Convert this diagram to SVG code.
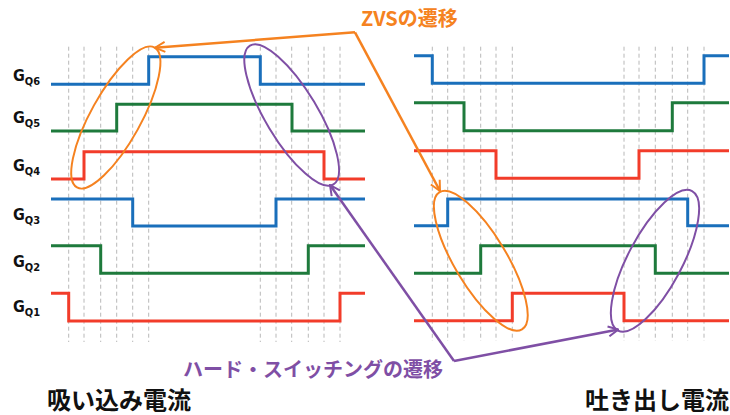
<svg xmlns="http://www.w3.org/2000/svg" width="730" height="415" viewBox="0 0 730 415">
<defs>
<style>
.grid line{stroke:#b8b8b8;stroke-width:1;stroke-dasharray:4 3}
.sig{fill:none;stroke-width:3;stroke-linejoin:miter}
.blue{stroke:#1a6fbb}
.green{stroke:#1e7a3c}
.red{stroke:#f23c2a}
.ell{fill:none;stroke-width:2}
.lbl{font-family:"DejaVu Sans Condensed","Liberation Sans Narrow","Liberation Sans",sans-serif;font-weight:bold;fill:#111}
.cap{font-family:"Noto Sans CJK JP","Noto Sans",sans-serif;font-weight:bold}
.conn{fill:none;stroke-width:2.5}
</style>
<marker id="ao" viewBox="0 0 12 12" refX="11" refY="6" markerWidth="12" markerHeight="12" markerUnits="userSpaceOnUse" orient="auto"><path d="M1,1 L11,6 L1,11" fill="none" stroke="#f58220" stroke-width="2"/></marker>
<marker id="ap" viewBox="0 0 12 12" refX="11" refY="6" markerWidth="12" markerHeight="12" markerUnits="userSpaceOnUse" orient="auto"><path d="M1,1 L11,6 L1,11" fill="none" stroke="#7f4fa5" stroke-width="2"/></marker>
</defs>
<rect width="730" height="415" fill="#fff"/>
<g class="grid">
<line x1="68.7" y1="46.7" x2="68.7" y2="342"/><line x1="84" y1="46.7" x2="84" y2="342"/><line x1="100.7" y1="46.7" x2="100.7" y2="342"/><line x1="116.7" y1="46.7" x2="116.7" y2="342"/><line x1="132.7" y1="46.7" x2="132.7" y2="342"/><line x1="148.7" y1="46.7" x2="148.7" y2="342"/>
<line x1="260.3" y1="46.7" x2="260.3" y2="342"/><line x1="276" y1="46.7" x2="276" y2="342"/><line x1="291.7" y1="46.7" x2="291.7" y2="342"/><line x1="308.3" y1="46.7" x2="308.3" y2="342"/><line x1="324" y1="46.7" x2="324" y2="342"/><line x1="340" y1="46.7" x2="340" y2="342"/>
<line x1="432.3" y1="46.7" x2="432.3" y2="341"/><line x1="447.7" y1="46.7" x2="447.7" y2="341"/><line x1="464" y1="46.7" x2="464" y2="341"/><line x1="480.7" y1="46.7" x2="480.7" y2="341"/><line x1="496" y1="46.7" x2="496" y2="341"/><line x1="512.3" y1="46.7" x2="512.3" y2="341"/>
<line x1="624" y1="46.7" x2="624" y2="341"/><line x1="639" y1="46.7" x2="639" y2="341"/><line x1="655.3" y1="46.7" x2="655.3" y2="341"/><line x1="672.3" y1="46.7" x2="672.3" y2="341"/><line x1="687.7" y1="46.7" x2="687.7" y2="341"/><line x1="704" y1="46.7" x2="704" y2="341"/>
</g>
<g id="GQ6">
<text class="lbl" x="13" y="81" font-size="16">G<tspan font-size="11" dy="4">Q6</tspan></text>
<path class="sig blue" d="M51,84.3 H148.7 V56.7 H260.3 V84.3 H365"/>
<path class="sig blue" d="M414,55.7 H432.3 V83.3 H704 V55.7 H729"/>
</g>
<g id="GQ5">
<text class="lbl" x="13" y="123.3" font-size="16">G<tspan font-size="11" dy="4">Q5</tspan></text>
<path class="sig green" d="M51,131 H116.7 V104.3 H292 V131 H365"/>
<path class="sig green" d="M414,102.7 H464 V130.7 H672.3 V102.7 H729"/>
</g>
<g id="GQ4">
<text class="lbl" x="13" y="171" font-size="16">G<tspan font-size="11" dy="4">Q4</tspan></text>
<path class="sig red" d="M51,179 H84 V151.7 H324 V179 H365"/>
<path class="sig red" d="M414,150.7 H496 V178.3 H639 V150.7 H729"/>
</g>
<g id="GQ3">
<text class="lbl" x="13" y="220" font-size="16">G<tspan font-size="11" dy="4">Q3</tspan></text>
<path class="sig blue" d="M51,199 H132.7 V226 H276 V199 H365"/>
<path class="sig blue" d="M414,225.7 H447.7 V199 H687.7 V225.7 H729"/>
</g>
<g id="GQ2">
<text class="lbl" x="13" y="267" font-size="16">G<tspan font-size="11" dy="4">Q2</tspan></text>
<path class="sig green" d="M51,245.7 H100.7 V273.3 H308.3 V245.7 H365"/>
<path class="sig green" d="M414,273.3 H480.7 V245.7 H655.3 V273.3 H729"/>
</g>
<g id="GQ1">
<text class="lbl" x="13" y="312.3" font-size="16">G<tspan font-size="11" dy="4">Q1</tspan></text>
<path class="sig red" d="M51,293.3 H68.7 V321 H340 V293.3 H365"/>
<path class="sig red" d="M414,320.7 H512.3 V293.3 H624 V320.7 H729"/>
</g>
<g id="zvs">
<ellipse class="ell" stroke="#f58220" cx="115.8" cy="117.5" rx="80" ry="25" transform="rotate(-61 115.8 117.5)"/>
<ellipse class="ell" stroke="#f58220" cx="480.8" cy="260.8" rx="80" ry="26" transform="rotate(59 480.8 260.8)"/>
<text class="cap" x="361" y="26" font-size="20" fill="#f58220">ZVSの遷移</text>
</g>
<g id="hard">
<ellipse class="ell" stroke="#7f4fa5" cx="291.7" cy="115" rx="81" ry="26" transform="rotate(59 291.7 115)"/>
<ellipse class="ell" stroke="#7f4fa5" cx="655" cy="260.8" rx="79" ry="27" transform="rotate(-62 655 260.8)"/>
<text class="cap" x="183" y="377" font-size="20" fill="#7f4fa5">ハード・スイッチングの遷移</text>
</g>
<g id="connectors">
<path class="conn" stroke="#f58220" d="M355,32.3 L155,47.7" marker-end="url(#ao)"/>
<path class="conn" stroke="#f58220" d="M355,32.3 L440,191" marker-end="url(#ao)"/>
<path class="conn" stroke="#7f4fa5" d="M454,361 L330,185" marker-end="url(#ap)"/>
<path class="conn" stroke="#7f4fa5" d="M454,361 L618.3,329.5" marker-end="url(#ap)"/>
</g>
<g id="captions">
<text class="cap" x="47" y="409" font-size="24" fill="#111">吸い込み電流</text>
<text class="cap" x="729" y="409" font-size="24" fill="#111" text-anchor="end">吐き出し電流</text>
</g>
</svg>
